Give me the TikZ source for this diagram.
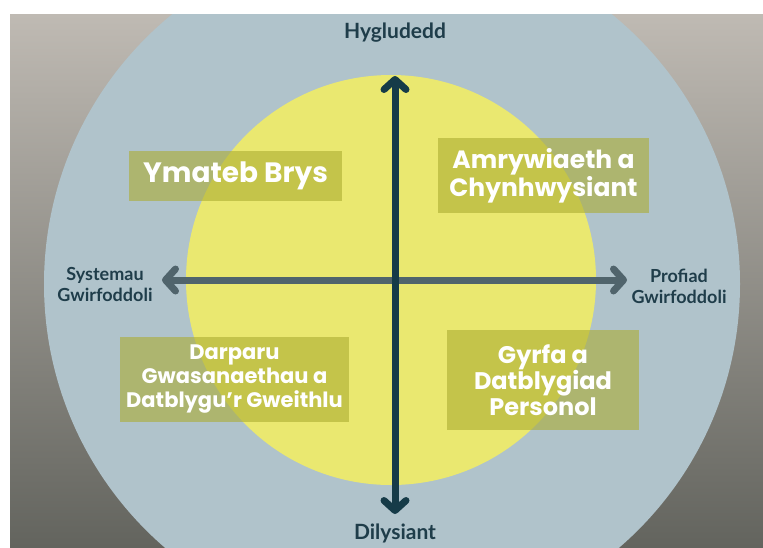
\documentclass[tikz,border=0pt]{standalone}
\usepackage{fontspec}
\usetikzlibrary{arrows.meta}
\newfontfamily\boxfont{Poppins}
\newfontfamily\labelfont{Lato}
\definecolor{bgtop}{HTML}{BFBAB3}
\definecolor{bgbottom}{HTML}{63645E}
\definecolor{outerblue}{HTML}{B0C3CB}
\definecolor{innerlemon}{HTML}{EAE870}
\definecolor{boxolive}{HTML}{ABAC32}
\definecolor{labelteal}{HTML}{1F3D4A}
\definecolor{vaxis}{HTML}{163B48}
\definecolor{haxis}{HTML}{50646C}
\tikzset{
	quadbox/.style={fill=boxolive,fill opacity=0.6,text opacity=1,text=white,
		align=center,inner sep=0pt},
	axislabel/.style={text=labelteal,align=center,
		font=\labelfont\bfseries\fontsize{18}{21}\selectfont},
	poletext/.style={axislabel,font=\labelfont\bfseries\fontsize{21}{21}\selectfont},
	axisarrow/.style={line width=7pt,
		{Straight Barb[length=10pt,width=22pt,round]}-{Straight Barb[length=10pt,width=22pt,round]}}
}
\begin{document}
\begin{tikzpicture}[x=1pt,y=-1pt]
	\useasboundingbox (0,0) rectangle (763,547);
	%background
	\fill[white] (0,0) rectangle (763,547);
	\begin{scope}
		\clip (10,14) rectangle (763,547);
		\shade[top color=bgtop,bottom color=bgbottom] (10,14) rectangle (763,547);
		%circles
		\fill[outerblue] (392,284) circle (348);
		\fill[innerlemon] (391,280) circle (205);
	\end{scope}
	%axes
	\coordinate (west) at (162,280);
	\coordinate (east) at (627,280);
	\coordinate (north) at (395,76);
	\coordinate (south) at (395,514);
	\draw[axisarrow,haxis] (west) -- (east);
	\draw[axisarrow,vaxis] (south) -- (north);
	%axis labels
	\node[poletext] (flex) at (395,33) {Hygludedd};
	\node[poletext] (relia) at (395,533) {Dilysiant};
	\node[axislabel] (systems) at (105,284) {Systemau\\Gwirfoddoli};
	\node[axislabel] (experience) at (679,286) {Profiad\\Gwirfoddoli};
	%quadrants
	\node[quadbox,minimum width=213,minimum height=50,
		font=\boxfont\bfseries\fontsize{28}{28}\selectfont] (emergency) at (235.5,176) {Ymateb Brys};
	\node[quadbox,minimum width=211,minimum height=75,
		font=\boxfont\bfseries\fontsize{25}{25}\selectfont] (diversity) at (543.5,175.5) {Amrywiaeth a\\Chynhwysiant};
	\node[quadbox,minimum width=229,minimum height=85,
		font=\boxfont\bfseries\fontsize{21}{24}\selectfont] (services) at (234.5,379.5) {Darparu\\Gwasanaethau a\\Datblygu’r Gweithlu};
	\node[quadbox,minimum width=192,minimum height=100,
		font=\boxfont\bfseries\fontsize{24}{26}\selectfont] (career) at (543,380) {Gyrfa a\\Datblygiad\\Personol};
\end{tikzpicture}
\end{document}
